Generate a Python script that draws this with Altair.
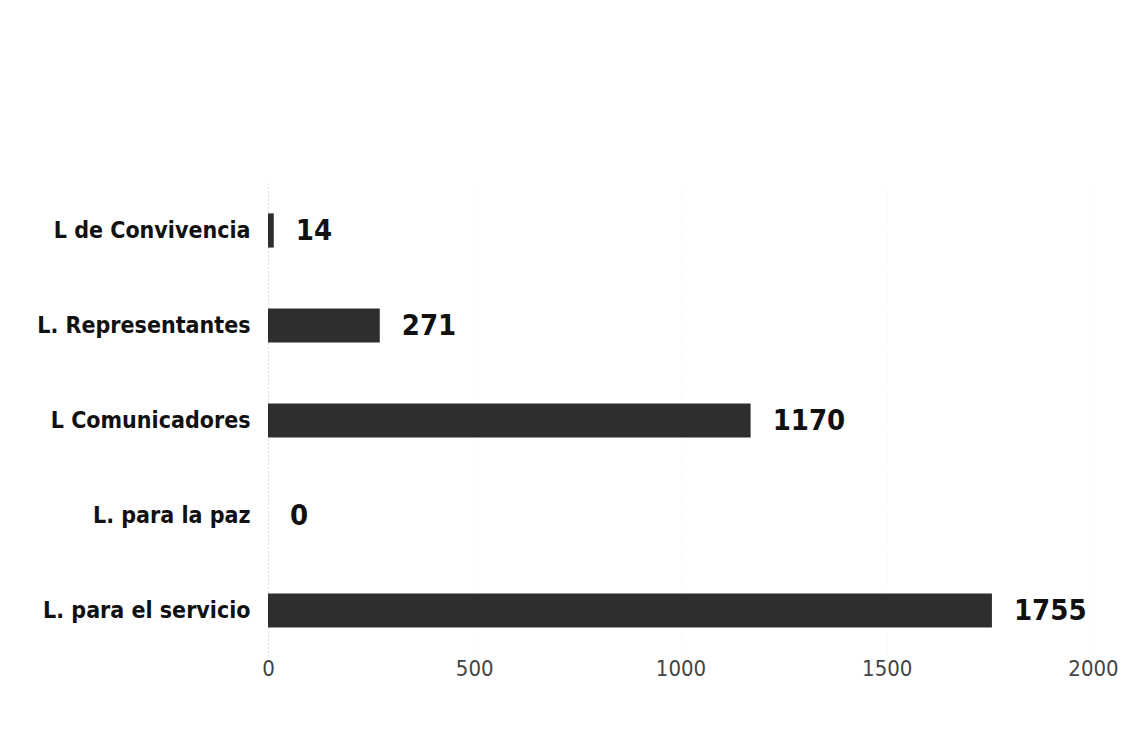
import altair as alt
import pandas as pd

categories = ["L de Convivencia", "L. Representantes", "L Comunicadores", "L.  para la paz", "L.  para el servicio"]
values = [14, 271, 1170, 0, 1755]
x_ticks = [0, 500, 1000, 1500, 2000]

df = pd.DataFrame({"cat": categories, "val": values})

FONT = "DejaVu Sans Condensed, Liberation Sans Narrow, sans-serif"

y_enc = alt.Y("cat:N", sort=categories, title=None,
              scale=alt.Scale(paddingInner=0.64, paddingOuter=0.32),
              axis=alt.Axis(labelFont=FONT, labelFontSize=23, labelFontWeight="bold",
                            labelColor="#111111", labelPadding=18, ticks=False,
                            domain=True, domainColor="#c4c4c4", domainDash=[1, 3],
                            labelLimit=300))
x_enc = alt.X("val:Q", title=None,
              scale=alt.Scale(domain=[0, 2000], nice=False),
              axis=alt.Axis(values=x_ticks, format="d", labelFont=FONT, labelFontSize=22,
                            labelColor="#444444", labelPadding=0, ticks=False,
                            domain=False, grid=True, gridColor="#e8e8e8",
                            gridDash=[1, 4], labelFlush=False))

bars = alt.Chart(df).mark_bar(color="#2e2e2e").encode(x=x_enc, y=y_enc)

labels = alt.Chart(df).mark_text(align="left", baseline="middle", dx=22,
                                 font=FONT, fontSize=29, fontWeight="bold",
                                 color="#111111").encode(
    x=alt.X("val:Q"), y=alt.Y("cat:N", sort=categories), text=alt.Text("val:Q"))

chart = (bars + labels).properties(
    width=825, height=475,
    autosize=alt.AutoSizeParams(type="none"),
    padding={"left": 260, "top": 175, "right": 32, "bottom": 83},
    background="white",
).configure_view(stroke=None)

chart.save("out.html", embed_options={"renderer": "svg", "actions": False})
